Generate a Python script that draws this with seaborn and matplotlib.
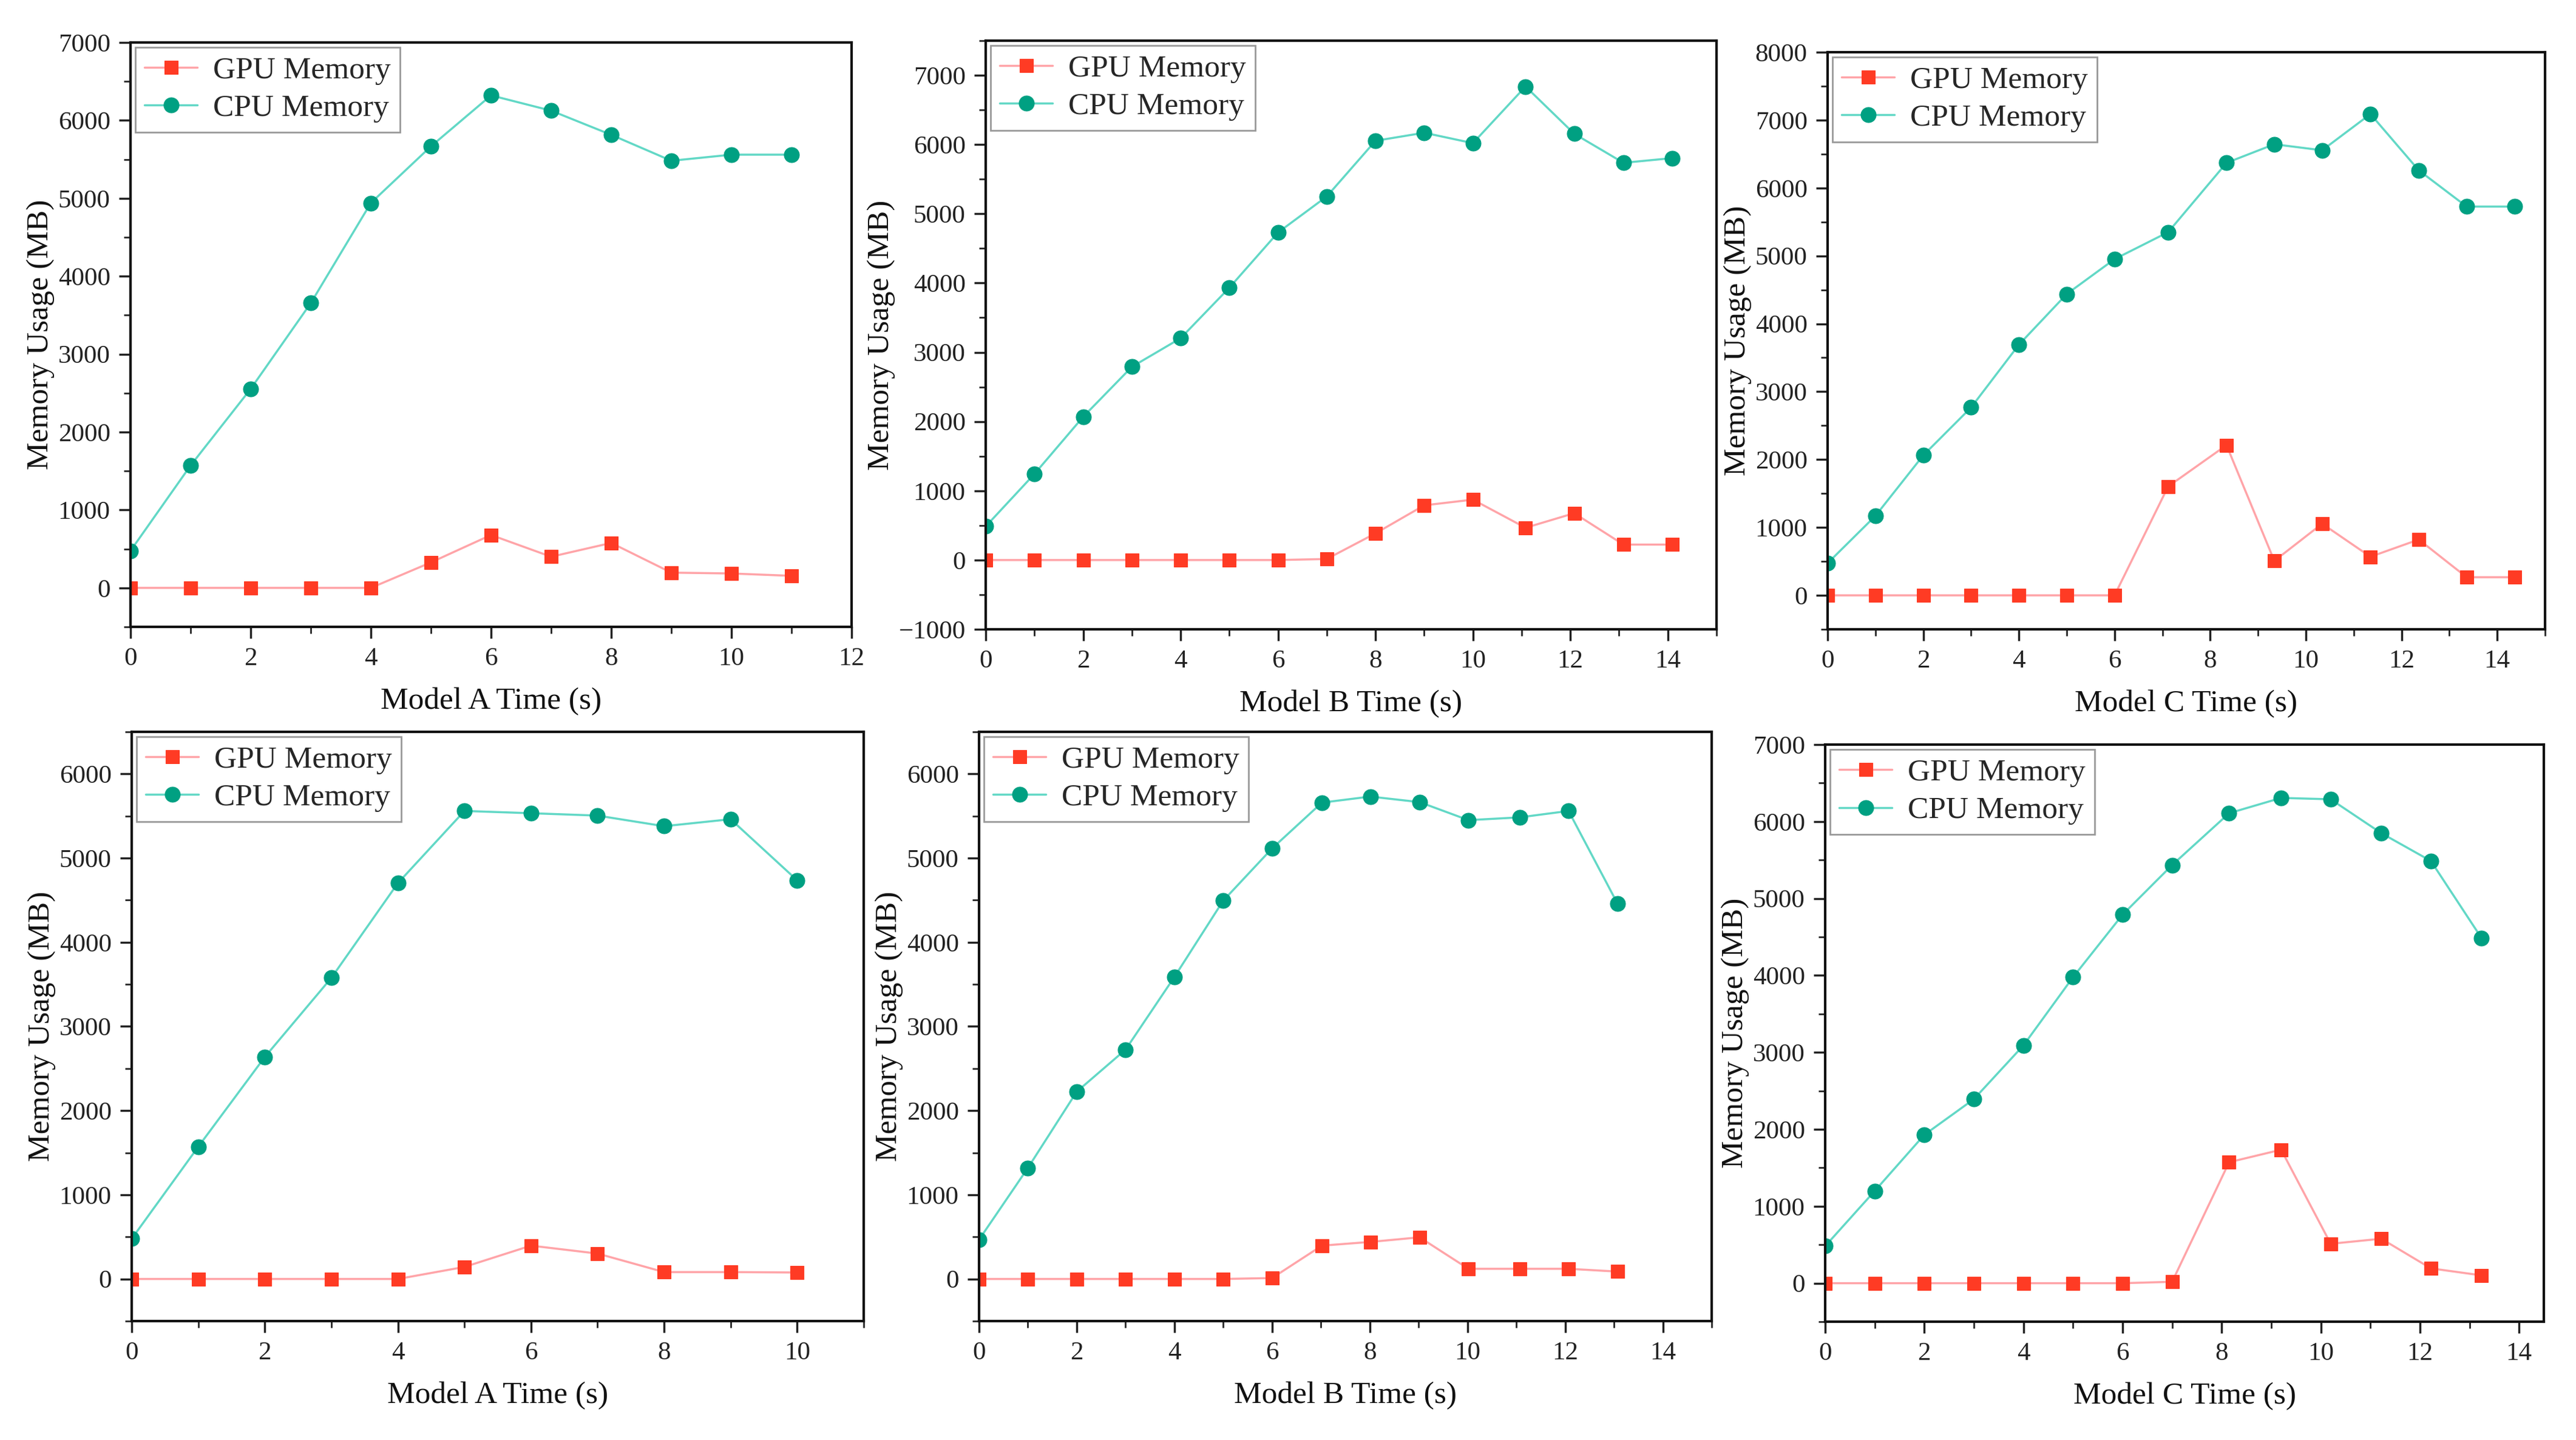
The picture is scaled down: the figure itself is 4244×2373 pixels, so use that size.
import matplotlib
matplotlib.use('Agg')
import matplotlib.pyplot as plt
import seaborn as sns
from matplotlib.ticker import MultipleLocator

# Data (time in s, memory in MB)
a1_time = [0, 1, 2, 3, 4, 5, 6, 7, 8, 9, 10, 11]
a1_gpu = [0, 0, 0, 0, 0, 327, 679, 400, 577, 196, 185, 155]
a1_cpu = [476, 1571, 2554, 3655, 4940, 5667, 6321, 6125, 5815, 5482, 5560, 5560]

b1_time = [0, 1, 2, 3, 4, 5, 6, 7, 8, 9, 10, 11.08, 12.08, 13.09, 14.09]
b1_gpu = [0, 0, 0, 0, 0, 0, 0, 15, 385, 790, 872, 466, 676, 223, 223]
b1_cpu = [486, 1243, 2068, 2790, 3203, 3932, 4730, 5250, 6054, 6170, 6020, 6838, 6155, 5736, 5804]

c1_time = [0, 1, 2, 3, 4, 5, 6, 7.12, 8.34, 9.34, 10.34, 11.35, 12.36, 13.36, 14.37]
c1_gpu = [0, 0, 0, 0, 0, 0, 0, 1603, 2212, 507, 1055, 568, 822, 267, 267]
c1_cpu = [473, 1171, 2062, 2767, 3692, 4438, 4952, 5349, 6370, 6644, 6555, 7089, 6260, 5726, 5726]

a2_time = [0, 1, 2, 3, 4, 5, 6, 7, 8, 9, 10]
a2_gpu = [0, 0, 0, 0, 0, 143, 396, 302, 82, 82, 77]
a2_cpu = [478, 1571, 2637, 3577, 4703, 5560, 5533, 5505, 5379, 5462, 4736]

b2_time = [0, 1, 2, 3, 4, 5, 6, 7.02, 8.01, 9.02, 10.02, 11.07, 12.07, 13.07]
b2_gpu = [0, 0, 0, 0, 0, 0, 11, 396, 440, 495, 121, 121, 121, 88]
b2_cpu = [467, 1319, 2225, 2725, 3588, 4495, 5115, 5659, 5731, 5665, 5451, 5484, 5560, 4462]

c2_time = [0, 1, 2, 3, 4, 5, 6, 7, 8.15, 9.2, 10.2, 11.22, 12.22, 13.24]
c2_gpu = [0, 0, 0, 0, 0, 0, 0, 18, 1572, 1735, 512, 578, 193, 102]
c2_cpu = [482, 1199, 1928, 2392, 3090, 3976, 4789, 5434, 6108, 6307, 6289, 5849, 5488, 4488]

x_labels = ['Model A Time (s)', 'Model B Time (s)', 'Model C Time (s)',
            'Model A Time (s)', 'Model B Time (s)', 'Model C Time (s)']

sns.set_style('ticks')
plt.rcParams['font.family'] = ['Liberation Serif', 'DejaVu Serif']

W, H = 4244, 2373
fig = plt.figure(figsize=(W / 100, H / 100), dpi=100)

# axes boxes in pixels: left, right, top, bottom
boxes = [(215, 1403, 70, 1033), (1624, 2828, 67, 1037), (3011, 4193, 86, 1037),
         (217, 1423, 1206, 2177), (1613, 2820, 1206, 2177), (3007, 4191, 1227, 2178)]
panels = [(a1_time, a1_gpu, a1_cpu), (b1_time, b1_gpu, b1_cpu), (c1_time, c1_gpu, c1_cpu),
          (a2_time, a2_gpu, a2_cpu), (b2_time, b2_gpu, b2_cpu), (c2_time, c2_gpu, c2_cpu)]
xlims = [(0, 12), (0, 15), (0, 15), (0, 11), (0, 15), (0, 14.5)]
ylims = [(-500, 7000), (-1000, 7500), (-500, 8000), (-500, 6500), (-500, 6500), (-500, 7000)]

gpu_line, gpu_mark = '#FFA4A8', '#FF3B24'
cpu_line, cpu_mark = '#62D8C6', '#00A082'

for i in range(6):
    l, r, t, b = boxes[i]
    ax = fig.add_axes([l / W, 1 - b / H, (r - l) / W, (b - t) / H])
    tm, gpu, cpu = panels[i]

    sns.lineplot(x=tm, y=gpu, ax=ax, color=gpu_line, lw=2.5, marker='s', ms=16,
                 markerfacecolor=gpu_mark, markeredgecolor=gpu_mark, label='GPU Memory')
    sns.lineplot(x=tm, y=cpu, ax=ax, color=cpu_line, lw=2.5, marker='o', ms=18,
                 markerfacecolor=cpu_mark, markeredgecolor=cpu_mark, label='CPU Memory')

    ax.set_xlim(*xlims[i])
    ax.set_ylim(*ylims[i])
    ax.xaxis.set_major_locator(MultipleLocator(2))
    ax.xaxis.set_minor_locator(MultipleLocator(1))
    ax.yaxis.set_major_locator(MultipleLocator(1000))
    ax.yaxis.set_minor_locator(MultipleLocator(500))
    ax.tick_params(which='major', direction='out', length=14, width=2.5, labelsize=31,
                   colors='#222222', pad=10)
    ax.tick_params(which='minor', direction='out', length=8, width=2)
    for sp in ax.spines.values():
        sp.set_linewidth(3)
        sp.set_color('#111111')

    ax.set_xlabel(x_labels[i], fontsize=37, labelpad=20, color='#111111')
    ax.set_ylabel('Memory Usage (MB)', fontsize=37, labelpad=4, color='#111111')

    leg = ax.legend(loc='upper left', fontsize=37, frameon=True, fancybox=False,
                    framealpha=1, edgecolor='#999999', borderaxespad=0.15,
                    borderpad=0.3, labelspacing=0.3, handlelength=1.7,
                    handletextpad=0.5)
    leg.get_frame().set_linewidth(2)

fig.savefig('out.png', dpi=100, facecolor='white')
